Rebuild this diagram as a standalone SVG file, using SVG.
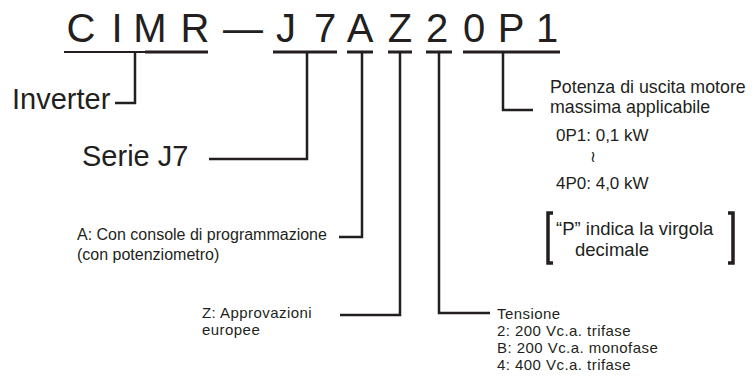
<svg xmlns="http://www.w3.org/2000/svg" width="756" height="378" viewBox="0 0 756 378">
<style>
text{font-family:"Liberation Sans",Arial,"DejaVu Sans",sans-serif;fill:#231f20}
.code{font-size:40px;text-anchor:middle}
.big{font-size:29px}
.s15{font-size:15px;letter-spacing:0.45px}
.s16{font-size:16px}
.s17{font-size:17px}
.s18{font-size:17.8px}
.s19{font-size:18.5px}
.ul{stroke:#231f20;stroke-width:3;fill:none}
.ln{stroke:#231f20;stroke-width:2.5;fill:none}
.br{stroke:#231f20;stroke-width:3.5;fill:none}
</style>
<rect width="756" height="378" fill="#ffffff"/>
<g id="code">
<text class="code" x="81" y="42">C</text>
<text class="code" x="117" y="42">I</text>
<text class="code" x="150" y="42">M</text>
<text class="code" x="195" y="42">R</text>
<text class="code" x="243" y="42">—</text>
<text class="code" x="286" y="42">J</text>
<text class="code" x="325" y="42">7</text>
<text class="code" x="360" y="42">A</text>
<text class="code" x="400" y="42">Z</text>
<text class="code" x="437" y="42">2</text>
<text class="code" x="474" y="42">0</text>
<text class="code" x="511" y="42">P</text>
<text class="code" x="547" y="42">1</text>
</g>
<g id="underlines">
<line class="ln" x1="64" y1="52" x2="146" y2="52" style="stroke-width:2"/>
<line class="ul" x1="145" y1="52" x2="208" y2="52"/>
<line class="ul" x1="273" y1="52" x2="337" y2="52"/>
<line class="ul" x1="347" y1="52" x2="373" y2="52"/>
<line class="ul" x1="388" y1="52" x2="412" y2="52"/>
<line class="ul" x1="426" y1="52" x2="452" y2="52"/>
<line class="ul" x1="463" y1="52" x2="560" y2="52"/>
</g>
<g id="connectors">
<path class="ln" d="M135,52 V103 H115"/>
<path class="ln" d="M307,52 V159 H209"/>
<path class="ln" d="M362,52 V237 H339"/>
<path class="ln" d="M400,52 V315 H340"/>
<path class="ln" d="M439,52 V313 H490"/>
<path class="ln" d="M503,52 V110 H533"/>
</g>
<g id="inverter">
<text class="big" x="12" y="109">Inverter</text>
</g>
<g id="serie">
<text class="big" x="82" y="166">Serie J7</text>
</g>
<g id="console">
<text class="s16" x="77" y="240">A: Con console di programmazione</text>
<text class="s16" x="77" y="260">(con potenziometro)</text>
</g>
<g id="approvazioni">
<text class="s15" x="202" y="318">Z: Approvazioni</text>
<text class="s15" x="202" y="335">europee</text>
</g>
<g id="tensione">
<text class="s15" x="497" y="319">Tensione</text>
<text class="s15" x="497" y="336">2: 200 Vc.a. trifase</text>
<text class="s15" x="497" y="353">B: 200 Vc.a. monofase</text>
<text class="s15" x="497" y="370">4: 400 Vc.a. trifase</text>
</g>
<g id="potenza">
<text class="s18" x="550" y="93">Potenza di uscita motore</text>
<text class="s18" x="550" y="113">massima applicabile</text>
<text class="s17" x="556" y="141">0P1: 0,1 kW</text>
<text x="593" y="162" style="font-family:'DejaVu Sans',sans-serif;font-size:16px;text-anchor:middle">≀</text>
<text class="s17" x="556" y="189">4P0: 4,0 kW</text>
<path class="br" d="M553,213 H548 V263 H553"/>
<path class="br" d="M728,213 H733 V263 H728"/>
<text class="s19" x="556" y="235">“P” indica la virgola</text>
<text class="s19" x="575" y="256">decimale</text>
</g>
</svg>
